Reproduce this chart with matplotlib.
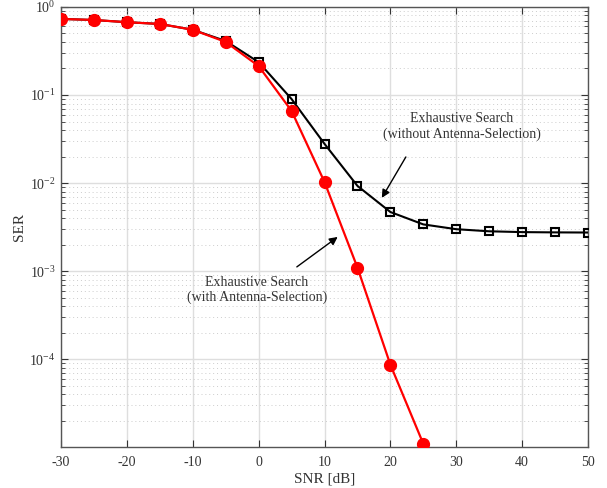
import numpy as np
import matplotlib
matplotlib.use('Agg')
import matplotlib.pyplot as plt
from matplotlib.ticker import LogLocator, NullFormatter

plt.rcParams['font.family'] = 'Liberation Serif'
plt.rcParams['mathtext.fontset'] = 'stix'
plt.rcParams['axes.unicode_minus'] = False

# SNR points and SER values
snr_with = [-30, -25, -20, -15, -10, -5, 0, 5, 10, 15, 20, 25]
ser_with = [0.73, 0.71, 0.67, 0.64, 0.55, 0.40, 0.213, 0.066, 0.0103,
            1.1e-3, 8.7e-5, 1.1e-5]

snr_without = [-30, -25, -20, -15, -10, -5, 0, 5, 10, 15, 20, 25, 30, 35, 40, 45, 50]
ser_without = [0.73, 0.71, 0.67, 0.64, 0.55, 0.41, 0.236, 0.09, 0.0279, 0.0093,
               0.0047, 0.0034, 0.0030, 0.00284, 0.00278, 0.00276, 0.00275]

fig = plt.figure(figsize=(6.07, 4.88), dpi=100)
ax = fig.add_axes([0.1005, 0.0846, 0.8682, 0.9013])
ax.set_yscale('log')

ax.plot(snr_without, ser_without, 's-', color='black', linewidth=1.5,
        markersize=6, markerfacecolor='none', markeredgewidth=1.5, zorder=3)
ax.plot(snr_with, ser_with, 'o-', color='red', linewidth=1.6,
        markersize=8.5, zorder=4)

ax.set_xlim(-30, 50)
ax.set_ylim(1.02e-5, 1)
ax.set_xticks(np.arange(-30, 51, 10))
ax.yaxis.set_major_locator(LogLocator(base=10, numticks=10))
ax.yaxis.set_minor_locator(LogLocator(base=10, subs=np.arange(2, 10), numticks=20))
ax.yaxis.set_minor_formatter(NullFormatter())

ax.grid(True, which='major', color='#dedede', linewidth=1.0, linestyle='-')
ax.grid(True, which='minor', axis='y', color='#cccccc', linewidth=0.7, linestyle=(0, (1, 3)))
ax.set_axisbelow(True)

ax.tick_params(which='both', direction='in', top=True, right=True, colors='#333333',
               labelsize=10, labelcolor='#333333')
ax.tick_params(which='major', length=5)
ax.tick_params(which='minor', length=3)
ax.tick_params(axis='x', pad=7)
ax.tick_params(axis='y', pad=4)
for s in ax.spines.values():
    s.set_color('#555555')
    s.set_linewidth(1.0)

ax.set_xlabel('SNR [dB]', fontsize=11, color='#333333', labelpad=2)
ax.set_ylabel('SER', fontsize=11, color='#333333', labelpad=2)

# annotations: text and arrows placed separately
ax.text(30.8, 0.044, 'Exhaustive Search\n(without Antenna-Selection)', ha='center',
        va='center', fontsize=10, color='#333333', linespacing=1.2)
ax.annotate('', xy=(18.7, 0.0068), xytext=(22.35, 0.0198),
            arrowprops=dict(arrowstyle='-|>', color='black', lw=1.0, shrinkA=0,
                            shrinkB=0, mutation_scale=12))
ax.text(-0.3, 6.1e-4, 'Exhaustive Search\n(with Antenna-Selection)', ha='center',
        va='center', fontsize=10, color='#333333', linespacing=1.2)
ax.annotate('', xy=(12.0, 2.45e-3), xytext=(5.8, 1.12e-3),
            arrowprops=dict(arrowstyle='-|>', color='black', lw=1.0, shrinkA=0,
                            shrinkB=0, mutation_scale=12))

plt.savefig('out.png', dpi=100)
